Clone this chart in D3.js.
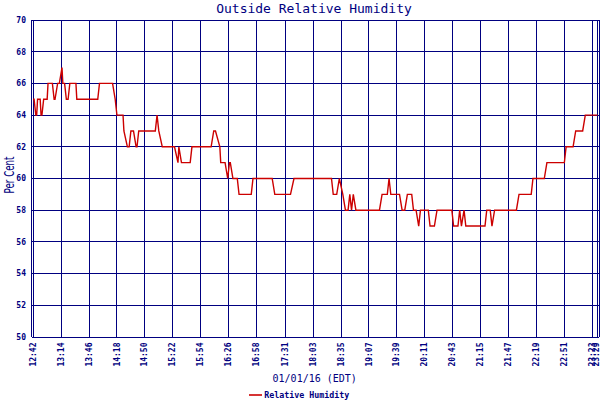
<!DOCTYPE html>
<html>
<head>
<meta charset="utf-8">
<script src="https://cdn.jsdelivr.net/npm/d3@7"></script>
<style>
  body { margin: 0; background: #fff; }
</style>
</head>
<body>
<div id="chart"></div>
<script>
// chart data
const chartTitle = "Outside Relative Humidity";
const dayLabel = "01/01/16 (EDT)";
const seriesName = "Relative Humidity";
const yLabel = "Per Cent";

const tickLabels = ["12:42", "13:14", "13:46", "14:18", "14:50", "15:22", "15:54", "16:26", "16:58", "17:31",
  "18:03", "18:35", "19:07", "19:39", "20:11", "20:43", "21:15", "21:47", "22:19", "22:51", "23:23", "23:29"];
const yTicks = [50, 52, 54, 56, 58, 60, 62, 64, 66, 68, 70];

const times = [
  "12:42", "12:43", "12:45", "12:46", "12:47", "12:50", "12:51", "12:52", "12:54", "12:58",
  "12:59", "13:04", "13:06", "13:07", "13:10", "13:12", "13:15", "13:16", "13:18", "13:20",
  "13:22", "13:24", "13:31", "13:32", "13:56", "13:58", "14:13", "14:16", "14:18", "14:25",
  "14:26", "14:30", "14:32", "14:34", "14:37", "14:40", "14:41", "14:43", "15:02", "15:04",
  "15:06", "15:10", "15:24", "15:28", "15:29", "15:32", "15:42", "15:44", "16:06", "16:09",
  "16:11", "16:16", "16:17", "16:22", "16:25", "16:27", "16:28", "16:31", "16:36", "16:38",
  "16:52", "16:54", "17:16", "17:19", "17:37", "17:41", "18:24", "18:26", "18:30", "18:33",
  "18:37", "18:40", "18:43", "18:45", "18:47", "18:49", "18:52", "19:19", "19:22", "19:28",
  "19:30", "19:32", "19:42", "19:45", "19:48", "19:51", "19:56", "19:58", "20:01", "20:04",
  "20:06", "20:15", "20:17", "20:22", "20:25", "20:42", "20:44", "20:49", "20:51", "20:53",
  "20:56", "20:58", "21:20", "21:22", "21:26", "21:28", "21:31", "21:56", "21:59", "22:13",
  "22:15", "22:28", "22:31", "22:51", "22:53", "23:01", "23:04", "23:12", "23:15", "23:29"
];
const humidity = [
  65, 65, 64, 64, 65, 65, 64, 64, 65, 65,
  66, 66, 65, 65, 66, 66, 67, 66, 66, 65,
  65, 66, 66, 65, 65, 66, 66, 65, 64, 64,
  63, 62, 62, 63, 63, 62, 62, 63, 63, 64,
  63, 62, 62, 61, 62, 61, 61, 62, 62, 63,
  63, 62, 61, 61, 60, 61, 61, 60, 60, 59,
  59, 60, 60, 59, 59, 60, 60, 59, 59, 60,
  59, 58, 58, 59, 58, 59, 58, 58, 59, 59,
  60, 59, 59, 58, 58, 59, 59, 58, 58, 57,
  58, 58, 57, 57, 58, 58, 57, 57, 58, 57,
  58, 57, 57, 58, 58, 57, 58, 58, 59, 59,
  60, 60, 61, 61, 62, 62, 63, 63, 64, 64
];

const navy = "#000080";
const red = "#cc0000";
const mono = "'DejaVu Sans Mono', monospace";

const width = 600, height = 400;
const parseTime = d3.timeParse("%H:%M");

const data = times.map((t, i) => ({ t: parseTime(t), v: humidity[i] }));
const ticks = tickLabels.map(parseTime);

const x = d3.scaleTime()
  .domain([ticks[0], ticks[ticks.length - 1]])
  .range([33.2, 597.5]);
const y = d3.scaleLinear()
  .domain([50, 70])
  .range([337, 20]);

const svg = d3.select("#chart").append("svg")
  .attr("width", width)
  .attr("height", height)
  .style("display", "block");

svg.append("rect").attr("width", width).attr("height", height).attr("fill", "#fff");

// title
svg.append("text")
  .attr("x", 314).attr("y", 13.3)
  .attr("text-anchor", "middle")
  .style("font-family", mono).style("font-size", "13px")
  .attr("fill", navy)
  .text(chartTitle);

// grid
const grid = svg.append("g")
  .attr("stroke", navy).attr("stroke-width", 1)
  .attr("shape-rendering", "crispEdges");

grid.selectAll(".hgrid")
  .data(yTicks)
  .enter().append("line")
  .attr("x1", 31.5).attr("x2", 599)
  .attr("y1", d => y(d)).attr("y2", d => y(d));

grid.selectAll(".vgrid")
  .data(ticks)
  .enter().append("line")
  .attr("x1", d => x(d)).attr("x2", d => x(d))
  .attr("y1", 20).attr("y2", 337);

// frame
grid.append("line").attr("x1", 31.5).attr("x2", 31.5).attr("y1", 20).attr("y2", 337);
grid.append("line").attr("x1", 599).attr("x2", 599).attr("y1", 20).attr("y2", 337);

// y tick labels
svg.selectAll(".ylab")
  .data(yTicks)
  .enter().append("text")
  .attr("x", 26).attr("y", d => y(d))
  .attr("dy", "0.35em")
  .attr("text-anchor", "end")
  .style("font-family", mono).style("font-size", "8px").style("font-weight", "bold")
  .attr("fill", navy)
  .text(d => d);

// x tick labels (last one pulled in so it stays on the page)
svg.selectAll(".xlab")
  .data(ticks)
  .enter().append("text")
  .attr("transform", d => `translate(${Math.min(x(d) + 2.6, 598.6)},342.5) rotate(-90)`)
  .attr("text-anchor", "end")
  .style("font-family", mono).style("font-size", "8px").style("font-weight", "bold")
  .attr("fill", navy)
  .text((d, i) => tickLabels[i]);

// axis titles
svg.append("text")
  .attr("x", 314.7).attr("y", 381.7)
  .attr("text-anchor", "middle")
  .style("font-family", mono).style("font-size", "10px")
  .attr("fill", navy)
  .text(dayLabel);

svg.append("text")
  .attr("transform", "translate(13.5,175) rotate(-90)")
  .attr("text-anchor", "middle")
  .attr("textLength", 37).attr("lengthAdjust", "spacingAndGlyphs")
  .style("font-family", "'DejaVu Sans', sans-serif").style("font-size", "13.5px")
  .attr("fill", navy)
  .text(yLabel);

// humidity line
const line = d3.line()
  .x(d => x(d.t))
  .y(d => y(d.v));

svg.append("path")
  .datum(data)
  .attr("d", line)
  .attr("fill", "none")
  .attr("stroke", red)
  .attr("stroke-width", 1.4)
  .attr("stroke-linejoin", "miter");

// legend
svg.append("line")
  .attr("x1", 249).attr("x2", 262)
  .attr("y1", 395).attr("y2", 395)
  .attr("stroke", red).attr("stroke-width", 1.6);

svg.append("text")
  .attr("x", 264.3).attr("y", 397.7)
  .style("font-family", mono).style("font-size", "8.3px").style("font-weight", "bold")
  .attr("fill", navy)
  .text(seriesName);
</script>
</body>
</html>
